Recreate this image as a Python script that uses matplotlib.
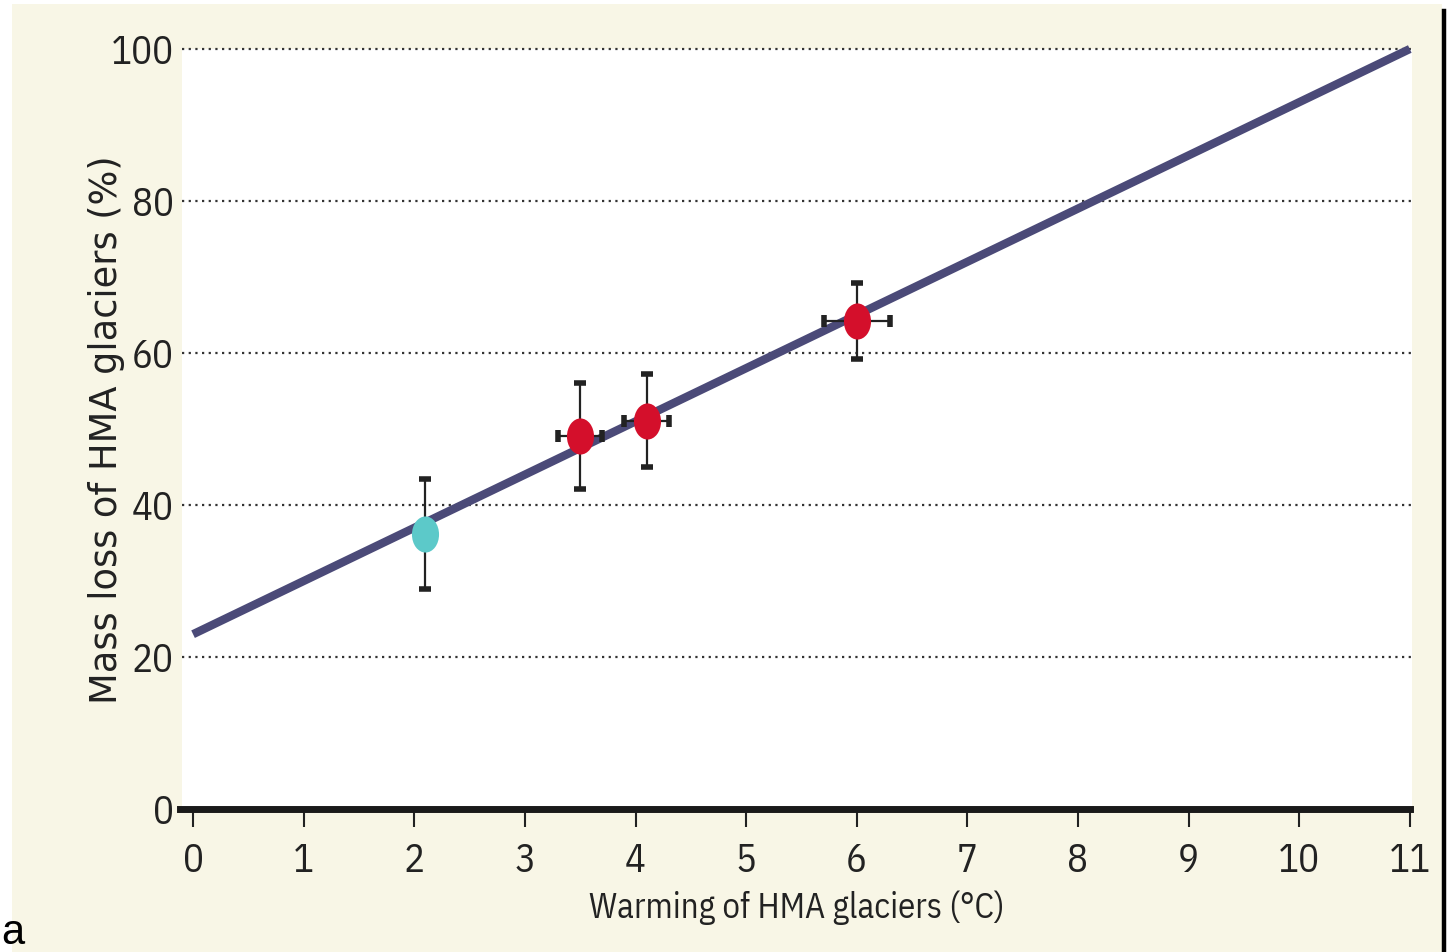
import matplotlib
matplotlib.use("Agg")
import matplotlib.pyplot as plt
import numpy as np
from matplotlib.path import Path
from matplotlib.patches import Rectangle
from matplotlib.lines import Line2D
from matplotlib import font_manager

# ---- data ----
fit_x = [0, 11]
fit_y = [23, 100]

cyan_x = [2.1]
cyan_y = [36.2]
cyan_yerr = [7.2]

red_x = [3.5, 4.1, 6.0]
red_y = [49.1, 51.1, 64.2]
red_yerr = [7.0, 6.1, 5.0]
red_xerr = [0.2, 0.2, 0.3]

xticks = list(range(0, 12))
yticks = [0, 20, 40, 60, 80, 100]
grid_levels = [20, 40, 60, 80, 100]

xlabel = "Warming of HMA glaciers (°C)"
ylabel = "Mass loss of HMA glaciers (%)"

names = {f.name for f in font_manager.fontManager.ttflist}


def pick(cands):
    for c in cands:
        if c in names:
            return c
    return "DejaVu Sans"


narrow = pick(["IBM Plex Sans Condensed", "Roboto Condensed", "Open Sans Condensed", "DejaVu Sans"])
plain = pick(["DejaVu Sans"])

W, H = 1453, 953
fig = plt.figure(figsize=(W / 100, H / 100), dpi=100, facecolor="white")

cream = "#f8f6e6"
fig.patches.append(Rectangle((12 / W, 0), (1442 - 12) / W, 1 - 5 / H,
                             transform=fig.transFigure, facecolor=cream,
                             edgecolor="none", zorder=-10))
fig.lines.append(Line2D([1444 / W, 1444 / W], [0, 1 - 12 / H],
                        transform=fig.transFigure, color="black", lw=3.2))

ax = fig.add_axes([182 / W, 1 - 810 / H, (1412 - 182) / W, (810 - 50) / H])
ax.set_facecolor("white")
ax.set_xlim(-0.1, 11.02)
ax.set_ylim(0, 100)

for g in grid_levels:
    ax.axhline(g, color="#333333", lw=1.6, ls=(0, (1, 2)), zorder=1, clip_on=False)

ax.plot(fit_x, fit_y, color="#4b4a78", lw=6, solid_capstyle="butt", zorder=3, clip_on=False)

circ = Path.unit_circle()
ell = Path(circ.vertices * np.array([0.75, 1.0]), circ.codes)

ax.errorbar(cyan_x, cyan_y, yerr=cyan_yerr, fmt="none", ecolor="#222222",
            elinewidth=1.6, capsize=4.5, capthick=4, zorder=4)
ax.plot(cyan_x, cyan_y, ls="none", marker=ell, ms=26, color="#5cc9c9", mec="none", zorder=5)

ax.errorbar(red_x, red_y, yerr=red_yerr, xerr=red_xerr, fmt="none", ecolor="#222222",
            elinewidth=1.6, capsize=4.5, capthick=4, zorder=4)
ax.plot(red_x, red_y, ls="none", marker=ell, ms=26, color="#d40f2b", mec="none", zorder=5)

for s in ["top", "right", "left"]:
    ax.spines[s].set_visible(False)
ax.spines["bottom"].set_linewidth(5)
ax.spines["bottom"].set_color("#1a1a1a")
ax.spines["bottom"].set_bounds(-0.12, 11)

tick_fs = 28
ax.set_xticks(xticks)
ax.set_xticklabels([str(t) for t in xticks], family=narrow, fontsize=tick_fs, color="#222222")
ax.tick_params(axis="x", direction="out", length=13, width=1.5, pad=11, color="#222222")
ax.set_yticks(yticks)
ax.set_yticklabels([str(t) for t in yticks], family=narrow, fontsize=tick_fs, color="#222222")
ax.tick_params(axis="y", length=0, pad=6)

ax.set_xlabel(xlabel, family=narrow, fontsize=25, color="#222222", labelpad=7)
ax.set_ylabel(ylabel, family=plain, fontsize=26.5, color="#222222")
ax.yaxis.set_label_coords(-0.046, 0.5)

fig.text(0.001, 0.0, "a", fontsize=30, family="Liberation Sans", ha="left", va="bottom", color="black")

fig.savefig("out.png", dpi=100, facecolor="white")
